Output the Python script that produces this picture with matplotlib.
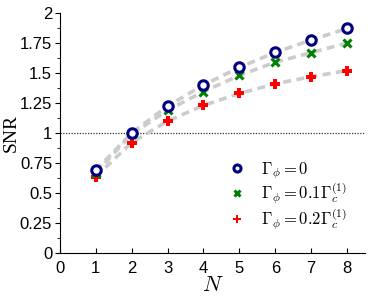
import matplotlib
matplotlib.use("Agg")
import matplotlib.pyplot as plt
from matplotlib.ticker import MultipleLocator

plt.rcParams['mathtext.fontset'] = 'cm'
plt.rcParams['font.family'] = ['Liberation Sans', 'DejaVu Sans']

N = [1, 2, 3, 4, 5, 6, 7, 8]
snr_0 = [0.69, 1.00, 1.225, 1.40, 1.547, 1.672, 1.775, 1.872]
snr_01 = [0.67, 0.99, 1.19, 1.345, 1.48, 1.59, 1.67, 1.75]
snr_02 = [0.636, 0.92, 1.10, 1.23, 1.33, 1.41, 1.47, 1.52]
labels = [r'$\Gamma_\phi = 0$', r'$\Gamma_\phi = 0.1\Gamma_c^{(1)}$', r'$\Gamma_\phi = 0.2\Gamma_c^{(1)}$']
yticks = [0, 0.25, 0.5, 0.75, 1, 1.25, 1.5, 1.75, 2]
ytick_labels = ['0', '0.25', '0.5', '0.75', '1', '1.25', '1.5', '1.75', '2']

fig = plt.figure(figsize=(3.74, 2.96), dpi=100)
ax = fig.add_axes([0.160, 0.145, 0.816, 0.811])

for s in (snr_0, snr_01, snr_02):
    ax.plot(N, s, linestyle=(0, (2.2, 1.5)), color='#cccccc', lw=2.6, zorder=1)

ax.axhline(1.0, color='#333333', lw=0.9, linestyle=(0, (1, 1.2)), zorder=0)

ax.plot(N, snr_02, linestyle='none', marker='P', markersize=7.5, color='#ff0000',
        markeredgewidth=0, label=labels[2], zorder=3)
ax.plot(N, snr_01, linestyle='none', marker='x', markersize=5.5, color='#008000',
        markeredgewidth=2.2, label=labels[1], zorder=4)
ax.plot(N, snr_0, linestyle='none', marker='o', markersize=6.8, markerfacecolor='white',
        markeredgecolor='#000080', markeredgewidth=2.2, label=labels[0], zorder=5)

ax.set_xlim(0, 8.5)
ax.set_ylim(0, 2)
ax.xaxis.set_major_locator(MultipleLocator(1))
ax.set_yticks(yticks)
ax.set_yticklabels(ytick_labels)
ax.yaxis.set_minor_locator(MultipleLocator(0.125))

ax.spines['top'].set_visible(False)
ax.spines['right'].set_visible(False)
ax.tick_params(axis='y', which='major', direction='out', length=3.5, labelsize=12, pad=2)
ax.tick_params(axis='y', which='minor', direction='out', length=2)
ax.tick_params(axis='x', which='major', direction='in', length=3.5, labelsize=12, pad=6)

ax.set_ylabel('SNR', fontsize=14, family=['Liberation Serif'])
ax.yaxis.set_label_coords(-0.13, 0.5)
ax.set_xlabel(r'$N$', fontsize=16, labelpad=-1)

h, l = ax.get_legend_handles_labels()
order = [2, 1, 0]
ax.legend([h[i] for i in order], [l[i] for i in order], loc='lower right',
          bbox_to_anchor=(0.995, 0.02), frameon=False, fontsize=12, markerscale=0.75,
          handletextpad=1.1, handlelength=0.6, labelspacing=0.0, borderpad=0.5)

fig.savefig('out.png', dpi=100)
